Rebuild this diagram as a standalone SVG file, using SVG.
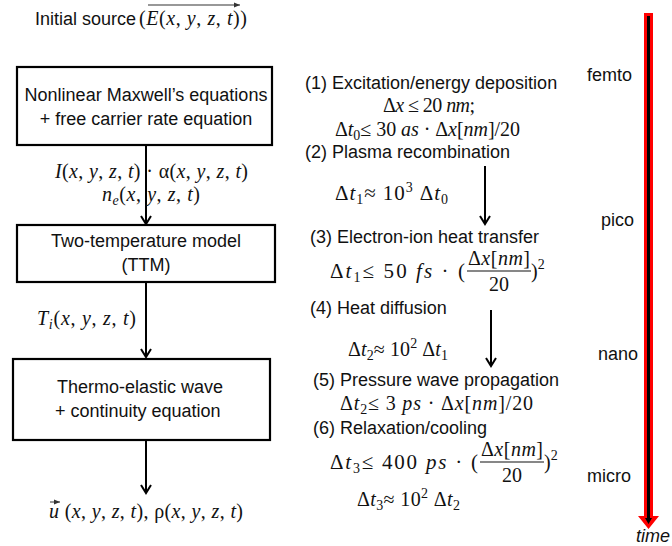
<svg xmlns="http://www.w3.org/2000/svg" width="672" height="546" viewBox="0 0 672 546">
<style>
.s{font-family:"Liberation Sans",Arial,sans-serif;font-size:18px;fill:#111}
.m{font-family:"Liberation Serif","Times New Roman",serif;font-size:20px;fill:#111}
.w{font-size:21px}
.i{font-style:italic}
.sub{font-size:14px}
.box{fill:#fff;stroke:#000;stroke-width:2.2}
.con{stroke:#000;stroke-width:2;fill:none}
</style>
<defs>
<marker id="ah" viewBox="0 0 12 12" refX="10" refY="6" markerWidth="12" markerHeight="12" markerUnits="userSpaceOnUse" orient="auto">
<path d="M2,1 L10,6 L2,11" fill="none" stroke="#000" stroke-width="2"/>
</marker>
<marker id="vh" viewBox="0 0 8 8" refX="7" refY="4" markerWidth="7" markerHeight="7" markerUnits="userSpaceOnUse" orient="auto">
<path d="M0,1 L7,4 L0,7 z" fill="#333"/>
</marker>
</defs>

<g id="source">
<text class="s" x="35" y="25">Initial source</text>
<text class="m" x="139" y="25" textLength="108">(<tspan class="i">E</tspan>(<tspan class="i">x</tspan>, <tspan class="i">y</tspan>, <tspan class="i">z</tspan>, <tspan class="i">t</tspan>))</text>
<line x1="148" y1="5" x2="240" y2="5" stroke="#333" stroke-width="1.2" marker-end="url(#vh)"/>
</g>

<g id="maxwell">
<rect class="box" x="17" y="67" width="255" height="78"/>
<text class="s" x="146" y="101" text-anchor="middle">Nonlinear Maxwell’s equations</text>
<text class="s" x="146" y="125" text-anchor="middle">+ free carrier rate equation</text>
</g>

<g id="ttm">
<rect class="box" x="17" y="225" width="258" height="57"/>
<text class="s" x="146" y="247" text-anchor="middle">Two-temperature model</text>
<text class="s" x="146" y="271" text-anchor="middle">(TTM)</text>
</g>

<g id="thermo">
<rect class="box" x="13" y="359" width="257" height="81"/>
<text class="s" x="57" y="393">Thermo-elastic wave</text>
<text class="s" x="55" y="417">+ continuity equation</text>
</g>

<g id="connectors">
<line class="con" x1="146" y1="145" x2="146" y2="224" marker-end="url(#ah)"/>
<line class="con" x1="146" y1="282" x2="146" y2="357" marker-end="url(#ah)"/>
<line class="con" x1="146" y1="440" x2="146" y2="493" marker-end="url(#ah)"/>
<line class="con" x1="485" y1="166" x2="485" y2="224" marker-end="url(#ah)"/>
<line class="con" x1="491" y1="310" x2="491" y2="366" marker-end="url(#ah)"/>
</g>

<g id="flow-labels">
<text class="m" x="55" y="178" textLength="193"><tspan class="i">I</tspan>(<tspan class="i">x</tspan>, <tspan class="i">y</tspan>, <tspan class="i">z</tspan>, <tspan class="i">t</tspan>) · α(<tspan class="i">x</tspan>, <tspan class="i">y</tspan>, <tspan class="i">z</tspan>, <tspan class="i">t</tspan>)</text>
<text class="m" x="102" y="201" textLength="98"><tspan class="i">n</tspan><tspan class="i sub" dy="4">e</tspan><tspan dy="-4">(</tspan><tspan class="i">x</tspan>, <tspan class="i">y</tspan>, <tspan class="i">z</tspan>, <tspan class="i">t</tspan>)</text>
<text class="m" x="37" y="325" textLength="99"><tspan class="i">T</tspan><tspan class="i sub" dy="4">i</tspan><tspan dy="-4">(</tspan><tspan class="i">x</tspan>, <tspan class="i">y</tspan>, <tspan class="i">z</tspan>, <tspan class="i">t</tspan>)</text>
<text class="m" x="49" y="518" textLength="194"><tspan class="i">u</tspan> (<tspan class="i">x</tspan>, <tspan class="i">y</tspan>, <tspan class="i">z</tspan>, <tspan class="i">t</tspan>), ρ(<tspan class="i">x</tspan>, <tspan class="i">y</tspan>, <tspan class="i">z</tspan>, <tspan class="i">t</tspan>)</text>
<line x1="50" y1="502" x2="60" y2="502" stroke="#333" stroke-width="1" marker-end="url(#vh)"/>
</g>

<g id="steps">
<text class="s" x="305" y="89">(1)  Excitation/energy deposition</text>
<text class="m" x="383" y="112" textLength="92">Δ<tspan class="i">x</tspan> ≤ 20 <tspan class="i">nm</tspan>;</text>
<text class="m" x="335" y="136" textLength="185">Δ<tspan class="i">t</tspan><tspan class="sub" dy="4">0</tspan><tspan dy="-4">≤ 30 </tspan><tspan class="i">as</tspan> · Δ<tspan class="i">x</tspan>[<tspan class="i">nm</tspan>]/20</text>
<text class="s" x="305" y="158">(2) Plasma recombination</text>
<text class="m w" x="335" y="200" textLength="113">Δ<tspan class="i">t</tspan><tspan class="sub" dy="4">1</tspan><tspan dy="-4">≈ 10</tspan><tspan class="sub" dy="-8">3</tspan><tspan dy="8"> Δ</tspan><tspan class="i">t</tspan><tspan class="sub" dy="4">0</tspan></text>

<text class="s" x="310" y="243">(3) Electron-ion heat transfer</text>
<text class="m w" x="330" y="278" textLength="135">Δ<tspan class="i">t</tspan><tspan class="sub" dy="4">1</tspan><tspan dy="-4">≤ 50 </tspan><tspan class="i">fs</tspan> · (</text>
<text class="m" x="468" y="265" textLength="62">Δ<tspan class="i">x</tspan>[<tspan class="i">nm</tspan>]</text>
<line x1="467" y1="271" x2="531" y2="271" stroke="#111" stroke-width="1.2"/>
<text class="m" x="499" y="291" text-anchor="middle">20</text>
<text class="m" x="531" y="278">)<tspan class="sub" dy="-9">2</tspan></text>

<text class="s" x="310" y="314">(4) Heat diffusion</text>
<text class="m" x="348" y="356" textLength="100">Δ<tspan class="i">t</tspan><tspan class="sub" dy="4">2</tspan><tspan dy="-4">≈ 10</tspan><tspan class="sub" dy="-8">2</tspan><tspan dy="8"> Δ</tspan><tspan class="i">t</tspan><tspan class="sub" dy="4">1</tspan></text>

<text class="s" x="313" y="386">(5) Pressure wave propagation</text>
<text class="m" x="340" y="410" textLength="193">Δ<tspan class="i">t</tspan><tspan class="sub" dy="4">2</tspan><tspan dy="-4">≤ 3 </tspan><tspan class="i">ps</tspan> · Δ<tspan class="i">x</tspan>[<tspan class="i">nm</tspan>]/20</text>
<text class="s" x="313" y="434">(6) Relaxation/cooling</text>
<text class="m w" x="330" y="469" textLength="148">Δ<tspan class="i">t</tspan><tspan class="sub" dy="4">3</tspan><tspan dy="-4">≤ 400 </tspan><tspan class="i">ps</tspan> · (</text>
<text class="m" x="481" y="456" textLength="62">Δ<tspan class="i">x</tspan>[<tspan class="i">nm</tspan>]</text>
<line x1="480" y1="462" x2="544" y2="462" stroke="#111" stroke-width="1.2"/>
<text class="m" x="512" y="482" text-anchor="middle">20</text>
<text class="m" x="544" y="469">)<tspan class="sub" dy="-9">2</tspan></text>
<text class="m" x="357" y="506" textLength="103">Δ<tspan class="i">t</tspan><tspan class="sub" dy="4">3</tspan><tspan dy="-4">≈ 10</tspan><tspan class="sub" dy="-8">2</tspan><tspan dy="8"> Δ</tspan><tspan class="i">t</tspan><tspan class="sub" dy="4">2</tspan></text>
</g>

<g id="timeline">
<path d="M644,13 L653,13 L653,516 L659,516 L648.5,529 L638,516 L644,516 Z" fill="#f00"/>
<path d="M647,16 L650,16 L650,518 L652,518 L648.5,524 L645,518 L647,518 Z" fill="#000"/>
<text class="s" x="587" y="81">femto</text>
<text class="s" x="601" y="226">pico</text>
<text class="s" x="598" y="360">nano</text>
<text class="s" x="587" y="482">micro</text>
<text class="s i" x="636" y="542">time</text>
</g>
</svg>
